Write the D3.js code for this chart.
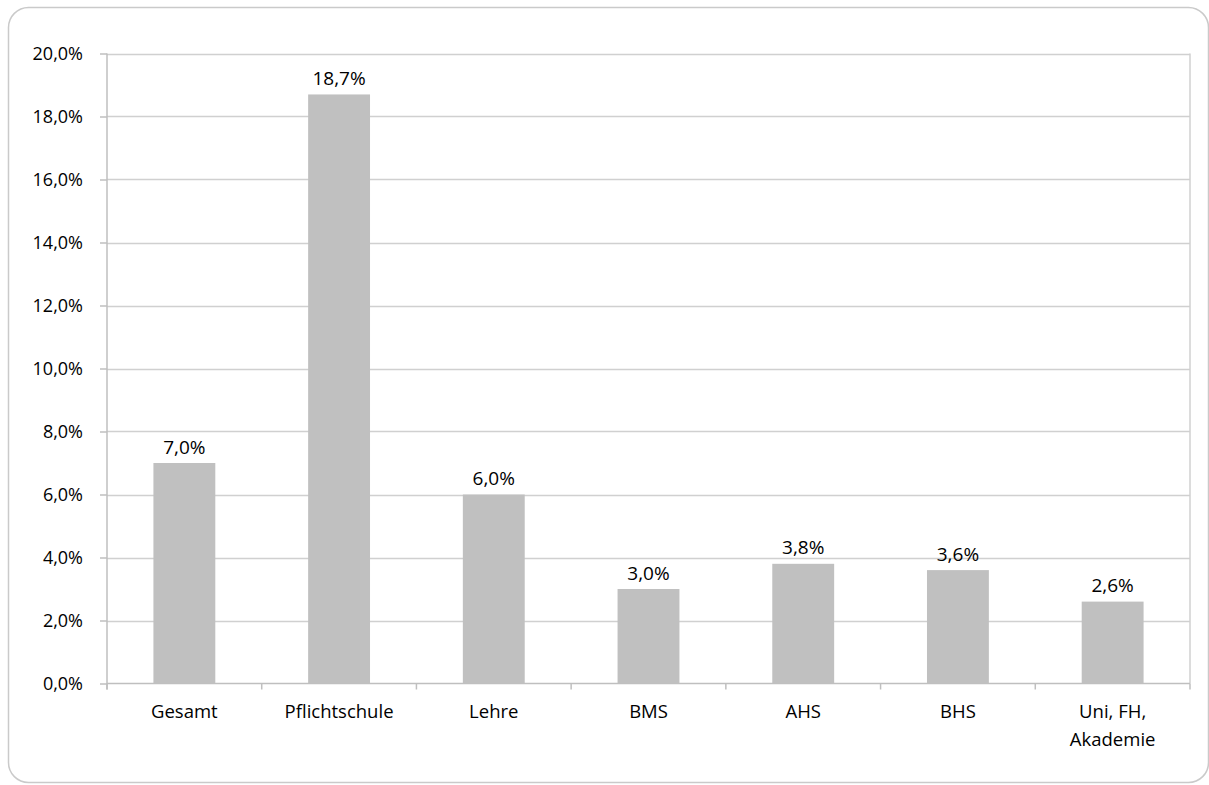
<!DOCTYPE html>
<html>
<head>
<meta charset="utf-8">
<script src="https://cdn.jsdelivr.net/npm/d3@7"></script>
<style>
  html, body { margin: 0; padding: 0; background: #fff; }
  svg { display: block; }
  text { font-family: "Open Sans", "Noto Sans", sans-serif; fill: #000; }
</style>
</head>
<body>
<svg id="chart" width="1209" height="785"></svg>
<script>
const categories = ["Gesamt", "Pflichtschule", "Lehre", "BMS", "AHS", "BHS", "Uni, FH,\nAkademie"];
const values = [7.0, 18.7, 6.0, 3.0, 3.8, 3.6, 2.6];
const yTicks = [0, 2, 4, 6, 8, 10, 12, 14, 16, 18, 20];

const FONT = '"Open Sans", "Noto Sans", sans-serif';
const svg = d3.select("#chart");
const plot = { left: 107, right: 1190, top: 53.5, bottom: 683.5 };

const loc = d3.formatLocale({ decimal: ",", thousands: ".", grouping: [3], currency: ["", "€"] });
const fmt = v => loc.format(".1f")(v) + "%";

// outer frame
svg.append("rect")
  .attr("x", 8.5).attr("y", 7.5)
  .attr("width", 1200).attr("height", 775)
  .attr("rx", 20).attr("ry", 20)
  .attr("fill", "#fff")
  .attr("stroke", "#cacaca")
  .attr("stroke-width", 1.5);

const x = d3.scaleBand()
  .domain(categories)
  .range([plot.left, plot.right])
  .paddingInner(0.6)
  .paddingOuter(0.3);

const y = d3.scaleLinear()
  .domain([0, 20])
  .range([plot.bottom, plot.top]);

// gridlines
svg.append("g")
  .selectAll("line")
  .data(yTicks.filter(t => t > 0))
  .join("line")
  .attr("x1", plot.left).attr("x2", plot.right)
  .attr("y1", d => Math.round(y(d)) + 0.5).attr("y2", d => Math.round(y(d)) + 0.5)
  .attr("stroke", "#d0d0d0")
  .attr("stroke-width", 1.5);

// right border of plot area
svg.append("line")
  .attr("x1", plot.right).attr("x2", plot.right)
  .attr("y1", y(20)).attr("y2", y(0))
  .attr("stroke", "#d0d0d0")
  .attr("stroke-width", 1.5);

// bars
svg.append("g")
  .selectAll("rect")
  .data(values)
  .join("rect")
  .attr("x", (d, i) => x(categories[i]))
  .attr("width", x.bandwidth())
  .attr("y", d => y(d))
  .attr("height", d => y(0) - y(d))
  .attr("fill", "#c0c0c0");

// data labels
svg.append("g")
  .selectAll("text")
  .data(values)
  .join("text")
  .attr("x", (d, i) => x(categories[i]) + x.bandwidth() / 2)
  .attr("y", d => y(d) - 9.5)
  .attr("text-anchor", "middle")
  .attr("font-size", 19)
  .text(d => fmt(d));

// left axis
const yAxis = svg.append("g")
  .attr("transform", `translate(${plot.left},0)`)
  .call(d3.axisLeft(y).tickValues(yTicks).tickSize(7).tickPadding(17).tickFormat(fmt));
yAxis.select(".domain").attr("stroke", "#bfbfbf").attr("stroke-width", 1.5)
  .attr("d", `M0,${plot.top}V${plot.bottom + 6}`);
yAxis.selectAll(".tick line").attr("stroke", "#bfbfbf").attr("stroke-width", 1.5);
yAxis.selectAll(".tick text").attr("font-size", 18).attr("fill", "#000")
  .style("font-family", FONT);

// bottom axis
const xAxis = svg.append("g")
  .attr("transform", `translate(0,${plot.bottom})`)
  .call(d3.axisBottom(x).tickSize(0).tickPadding(21.5));
xAxis.select(".domain").attr("stroke", "#bfbfbf").attr("stroke-width", 1.5)
  .attr("d", `M${plot.left},0H${plot.right}`);
xAxis.selectAll(".tick text")
  .attr("font-size", 18.5).attr("fill", "#000")
  .style("font-family", FONT)
  .each(function(d) {
    const t = d3.select(this);
    const lines = d.split("\n");
    t.text(null);
    lines.forEach((ln, i) => {
      t.append("tspan").attr("x", 0).attr("dy", i === 0 ? "0.71em" : "28px").text(ln);
    });
  });

// category boundary ticks
const step = x.step();
const boundaries = categories.map(c => x(c) - step * x.paddingInner() / 2)
  .concat([x(categories[categories.length - 1]) + x.bandwidth() + step * x.paddingInner() / 2]);
xAxis.append("g")
  .selectAll("line")
  .data(boundaries)
  .join("line")
  .attr("x1", d => d).attr("x2", d => d)
  .attr("y1", 0).attr("y2", 6)
  .attr("stroke", "#bfbfbf")
  .attr("stroke-width", 1.5);
</script>
</body>
</html>
